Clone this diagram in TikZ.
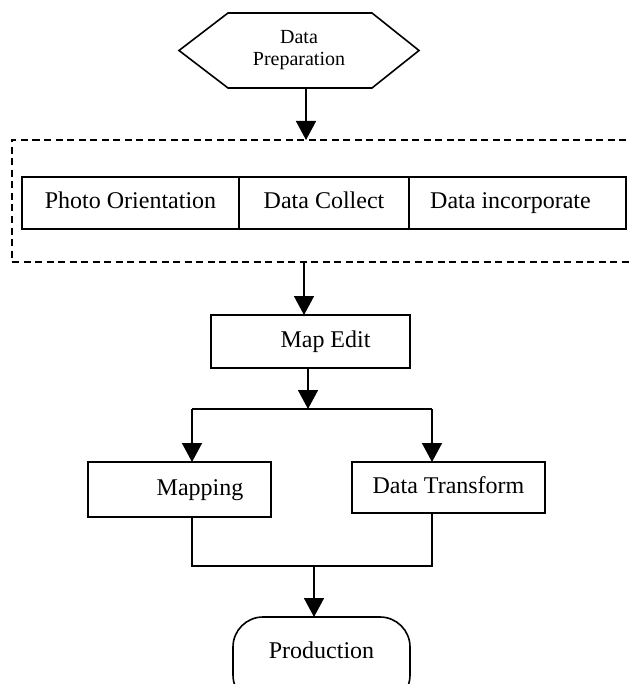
\documentclass[tikz,border=0pt]{standalone}
\usepackage{fontspec}
\setmainfont{Liberation Serif}
\usetikzlibrary{arrows.meta}
\tikzset{
  flow/.style={line width=1.6pt},
  arr/.style={flow,-{Triangle[width=20pt,length=19pt]}},
  box/.style={draw,flow,rectangle,inner sep=0pt,outer sep=0pt,text height=16.5pt,text depth=5pt,font=\fontsize{24}{28}\selectfont},
  grp/.style={draw,flow,dash pattern=on 7pt off 4.5pt,rectangle,inner sep=0pt,outer sep=0pt},
  term/.style={draw,flow,rectangle,rounded corners=30pt,inner sep=0pt,outer sep=0pt,font=\fontsize{24}{28}\selectfont},
  hexlabel/.style={inner sep=0pt,outer sep=0pt,align=center,font=\fontsize{20}{22}\selectfont}
}
\begin{document}
\begin{tikzpicture}[x=1pt,y=-1pt]
\useasboundingbox (0,0) rectangle (628,684);
% hexagon
\node[hexlabel,minimum width=240pt,minimum height=75pt] (prep) at (299,50.5) {Data\\Preparation};
\draw[flow] (prep.west) -- ([xshift=49pt]prep.north west) -- ([xshift=-47pt]prep.north east) -- (prep.east) -- ([xshift=-47pt]prep.south east) -- ([xshift=49pt]prep.south west) -- cycle;
% dashed group
\node[grp,minimum width=660pt,minimum height=122pt] (group) at (342,201) {};
\node[box,minimum width=217pt,minimum height=52pt] (photo) at (130.5,203) {Photo Orientation};
\node[box,minimum width=170pt,minimum height=52pt] (collect) at (324,203) {Data Collect};
\node[box,minimum width=217pt,minimum height=52pt] (incorp) at (517.5,203) {\hspace*{-14pt}Data incorporate};
% map edit
\node[box,minimum width=199pt,minimum height=53pt] (mapedit) at (310.5,341.5) {\hspace*{30pt}Map Edit};
% branches
\node[box,minimum width=183pt,minimum height=55pt] (mapping) at (179.5,489.5) {\hspace*{41pt}Mapping};
\node[box,minimum width=193pt,minimum height=51pt] (dt) at (448.5,487.5) {Data Transform};
% production
\node[term,minimum width=177pt,minimum height=88pt] (prod) at (321.5,661) {\raisebox{22pt}{Production}};
% coordinates
\coordinate (j) at (308,409);
\coordinate (jl) at (192,409);
\coordinate (jr) at (432,409);
\coordinate (ml) at (192,566);
\coordinate (mr) at (432,566);
\coordinate (m) at (314,566);
% connectors
\draw[arr] ([xshift=7pt]prep.south) -- ([xshift=7pt]prep.south |- group.north);
\draw[arr] ([xshift=-6.5pt]mapedit.north |- group.south) -- ([xshift=-6.5pt]mapedit.north);
\draw[arr] (mapedit.south -| j) -- (j);
\draw[flow] (jl) -- (jr);
\draw[arr] (jl) -- (jl |- mapping.north);
\draw[arr] (jr) -- (jr |- dt.north);
\draw[flow] (mapping.south -| ml) -- (ml) -- (mr) -- (dt.south -| mr);
\draw[arr] (m) -- (m |- prod.north);
\end{tikzpicture}
\end{document}
